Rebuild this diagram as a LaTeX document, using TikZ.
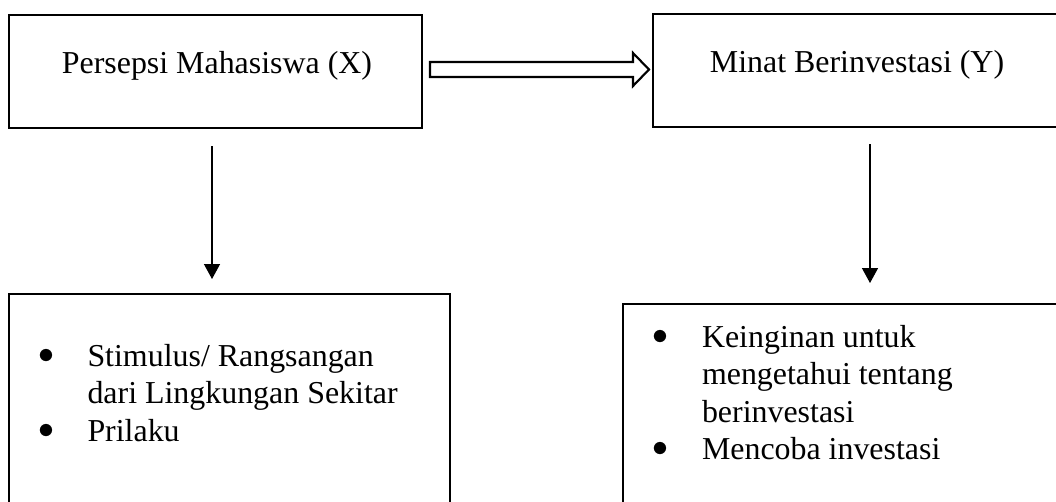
\documentclass[tikz,border=0pt]{standalone}
\usepackage{fontspec}
\setmainfont{Liberation Serif}
\usetikzlibrary{arrows.meta}
\newcommand{\butir}{\makebox[18.6pt][l]{\raisebox{1.1pt}{$\bullet$}}}
\begin{document}
\begin{tikzpicture}[x=0.376pt,y=-0.376pt,
  kotak/.style={draw,line width=1pt},
  teks/.style={font=\fontsize{12}{14.1}\selectfont,inner sep=0pt},
  panah/.style={line width=0.4pt,-{Triangle[length=5.6pt,width=6pt]}}]
  \useasboundingbox (0,0) rectangle (1056,501);
  \clip (0,0) rectangle (1056,501);

  % variabel X dan Y
  \draw[kotak] (9,15) rectangle (422,128);
  \draw[kotak] (653,14) rectangle (1062,127);
  \node[teks,anchor=base] (varx) at (217,73) {Persepsi Mahasiswa (X)};
  \node[teks,anchor=base] (vary) at (857,72) {Minat Berinvestasi (Y)};

  % panah blok X -> Y
  \draw[line width=0.8pt] (430,62) -- (633,62) -- (633,53) -- (649,69.5)
     -- (633,86) -- (633,77) -- (430,77) -- cycle;

  % indikator
  \draw[kotak] (9,294) rectangle (450,510);
  \draw[kotak] (623,304) rectangle (1062,510);
  \node[teks,anchor=base west] (indx) at (37.5,366)
     {\begin{tabular}[t]{@{}l@{}}
       \butir Stimulus/ Rangsangan\\
       \hspace*{18.6pt}dari Lingkungan Sekitar\\
       \butir Prilaku
      \end{tabular}};
  \node[teks,anchor=base west] (indy) at (652,347)
     {\begin{tabular}[t]{@{}l@{}}
       \butir Keinginan untuk\\
       \hspace*{18.6pt}mengetahui tentang\\
       \hspace*{18.6pt}berinvestasi\\
       \butir Mencoba investasi
      \end{tabular}};

  % panah ke indikator
  \coordinate (x1) at (212,146);
  \coordinate (x2) at (212,279);
  \coordinate (y1) at (870,144);
  \coordinate (y2) at (870,283);
  \draw[panah] (x1) -- (x2);
  \draw[panah] (y1) -- (y2);
\end{tikzpicture}
\end{document}
